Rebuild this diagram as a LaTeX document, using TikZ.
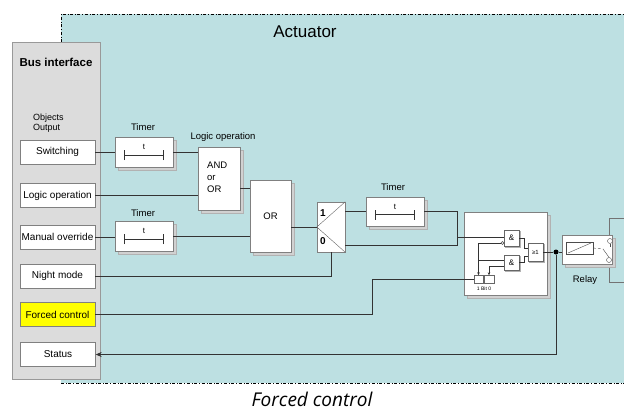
\documentclass[tikz,border=0pt]{standalone}
\usepackage{fontspec}
\setmainfont{Liberation Sans}
\newfontfamily\captionfont{Open Sans}
\usetikzlibrary{positioning,shadows,arrows.meta}

\definecolor{actuatorbg}{RGB}{189,224,226}
\definecolor{busgrey}{RGB}{220,220,220}
\definecolor{forcedyellow}{RGB}{255,255,0}

\tikzset{
  wire/.style={draw=black!80, line width=0.6pt},
  objbox/.style={draw=black!50, fill=white, minimum width=75pt, minimum height=24pt,
    inner sep=0pt, font=\fontsize{10}{12}\selectfont},
  fnbox/.style={draw=black!50, fill=white, inner sep=0pt,
    copy shadow={shadow xshift=3pt, shadow yshift=-3pt, fill=black!18, draw=black!30}},
  gatebox/.style={draw=black!60, fill=white, inner sep=0pt, minimum width=15pt,
    copy shadow={shadow xshift=1.5pt, shadow yshift=-1.5pt, fill=black!18, draw=black!30}},
  lbl/.style={font=\fontsize{9.5}{12}\selectfont, inner sep=0pt},
}

\begin{document}
\begin{tikzpicture}[x=1pt,y=-1pt]
  \useasboundingbox (0,0) rectangle (624,415);
  % Draw the actuator area
  \fill[actuatorbg] (61,14) rectangle (624,383);
  \draw[dashdotted, line width=0.8pt] (61,42) -- (61,14) -- (624,14);
  \draw[dashdotted, line width=0.8pt] (61,383) -- (624,383);
  \node[font=\fontsize{17}{20}\selectfont] (act) at (305,32) {Actuator};
  % Draw the bus interface
  \draw[fill=busgrey, draw=black!40] (12,42) rectangle (100,379);
  \node[font=\bfseries\fontsize{11.5}{13}\selectfont] (bus) at (56,62) {Bus interface};
  \node[lbl, anchor=west, align=left, font=\fontsize{9}{10}\selectfont] (objs) at (33,123) {Objects\\Output};
  \node[objbox] (sw) at (57.5,152) {Switching};
  \node[objbox] (lo) at (57.5,195.5) {Logic operation};
  \node[objbox] (mo) at (57.5,237) {Manual override};
  \node[objbox] (nm) at (57.5,276) {Night mode};
  \node[objbox, fill=forcedyellow] (fc) at (57.5,314.5) {Forced control};
  \node[objbox] (st) at (58,354.5) {Status};
  % Draw the function blocks
  \node[fnbox, minimum width=58pt, minimum height=30pt] (tmA) at (144,152) {};
  \node[fnbox, minimum width=58pt, minimum height=30pt] (tmB) at (144,236) {};
  \node[fnbox, minimum width=58pt, minimum height=29pt] (tmC) at (395,211.5) {};
  \node[lbl] at (143,127) {Timer};
  \node[lbl] at (143,213) {Timer};
  \node[lbl] at (393,187) {Timer};
  \foreach \tm in {tmA,tmB,tmC} {
    \draw[wire, line width=0.5pt] ([xshift=-20pt,yshift=-3pt]\tm.center) -- ([xshift=19pt,yshift=-3pt]\tm.center);
    \draw[wire, line width=0.5pt] ([xshift=-20pt,yshift=-8pt]\tm.center) -- ([xshift=-20pt,yshift=2pt]\tm.center);
    \draw[wire, line width=0.5pt] ([xshift=19pt,yshift=-8pt]\tm.center) -- ([xshift=19pt,yshift=2pt]\tm.center);
    \node[font=\fontsize{8}{9}\selectfont] at ([yshift=5pt]\tm.center) {t};
  }
  \node[fnbox, minimum width=42pt, minimum height=63pt] (lg) at (219,178.5) {};
  \node[lbl] at (223,137) {Logic operation};
  \node[lbl, align=left, anchor=west] (lgtxt) at (207,177) {AND\\or\\OR};
  \node[fnbox, minimum width=41pt, minimum height=72pt, font=\fontsize{9.5}{12}\selectfont] (orb) at (270.5,216) {OR};
  \node[draw=black!50, fill=white, minimum width=28pt, minimum height=50pt] (sel) at (331,227) {};
  \draw[black!60] (sel.north east) -- (sel.west) -- (sel.south east);
  \node[font=\bfseries\fontsize{10}{12}\selectfont] at ([xshift=-8pt,yshift=14pt]sel.center) {1};
  \node[font=\bfseries\fontsize{10}{12}\selectfont] at ([xshift=-8pt,yshift=-14pt]sel.center) {0};
  % Draw the logic block
  \node[fnbox, minimum width=83pt, minimum height=83pt] (lb) at (505.5,253.5) {};
  \node[gatebox, minimum height=16pt, font=\fontsize{8}{9}\selectfont] (ga) at (511.5,238) {\&};
  \node[gatebox, minimum height=15pt, font=\fontsize{8}{9}\selectfont] (gb) at (511.5,262.5) {\&};
  \node[gatebox, minimum height=18pt, font=\fontsize{6}{7}\selectfont] (go) at (535.5,252) {≥1};
  \node[draw=black!60, fill=white, minimum width=9pt, minimum height=8pt, inner sep=0pt] (bA) at (478.5,279.5) {};
  \node[draw=black!60, fill=white, minimum width=10pt, minimum height=8pt, inner sep=0pt] (bB) at (489,279.5) {};
  \node[font=\fontsize{5}{6}\selectfont] (bit) at (484,289) {1 Bit 0};
  \node[circle, draw=black!70, fill=white, inner sep=0pt, minimum size=3pt] (inv) at (502.5,243) {};
  % Draw the relay
  \draw[black!55] (624,218) -- (609,218) -- (609,282) -- (624,282);
  \node[fnbox, minimum width=50pt, minimum height=29pt] (rl) at (587,249.5) {};
  \node[lbl] at (585,280) {Relay};
  \draw[black!70] (566,242) rectangle (593,254);
  \draw[black!70] (568,253) -- (591,243);
  \draw[black!70, densely dashed] (593,248) -- (603,249);
  \node[circle, draw=black!70, fill=white, inner sep=0pt, minimum size=5pt] (cA) at (610,241) {};
  \node[circle, draw=black!70, fill=white, inner sep=0pt, minimum size=5pt] (cB) at (609,260) {};
  \draw[black!70] (cA.south) -- (610,247);
  \draw[black!70] (603,249) -- (cB.north);
  % Draw the connections
  \draw[wire] (sw.east) -- (tmA.west);
  \draw[wire] (tmA.east) -- (tmA.east -| lg.west);
  \draw[wire] (lo.east) -- (lo.east -| lg.west);
  \draw[wire] (mo.east) -- (mo.east -| tmB.west);
  \draw[wire] (tmB.east) -- (tmB.east -| orb.west);
  \draw[wire] (lg.east |- 0,188) -- (orb.west |- 0,188);
  \draw[wire] (orb.east |- sel.west) -- (sel.west);
  \draw[wire] (nm.east) -- (nm.east -| sel.south) -- (sel.south);
  \draw[wire] (sel.east |- tmC.west) -- (tmC.west);
  \coordinate (mg) at (457,237);
  \draw[wire] (tmC.east) -| (457,245) -- (sel.east |- 0,245);
  \draw[wire] (mg) -- (mg -| ga.west);
  \draw[wire] (fc.east) -- (372,314.5) |- (bA.west);
  \draw[wire, line width=0.5pt, -{Stealth[length=3pt,width=2.5pt]}] (inv.west) -| (bA.north);
  \draw[wire, line width=0.5pt] (478,260) -- (478,260 -| gb.west);
  \draw[wire, line width=0.5pt, -{Stealth[length=3pt,width=2.5pt]}] (gb.west |- 0,266) -| (bB.north);
  \draw[wire, line width=0.5pt] (ga.east) -- (524,238) |- (go.west |- 0,248);
  \draw[wire, line width=0.5pt] (gb.east) -- (524,262.5) |- (go.west |- 0,256);
  \node[circle, fill=black, inner sep=0pt, minimum size=5pt] (dt) at (556,252) {};
  \draw[wire] (go.east |- dt) -- (dt) -- (dt -| rl.west);
  \draw[wire, -{Stealth[length=6pt,width=5pt]}] (dt) |- (st.east);
  % Caption
  \node[font=\captionfont\itshape\fontsize{19}{22}\selectfont] (cap) at (312,399) {Forced control};
\end{tikzpicture}
\end{document}
